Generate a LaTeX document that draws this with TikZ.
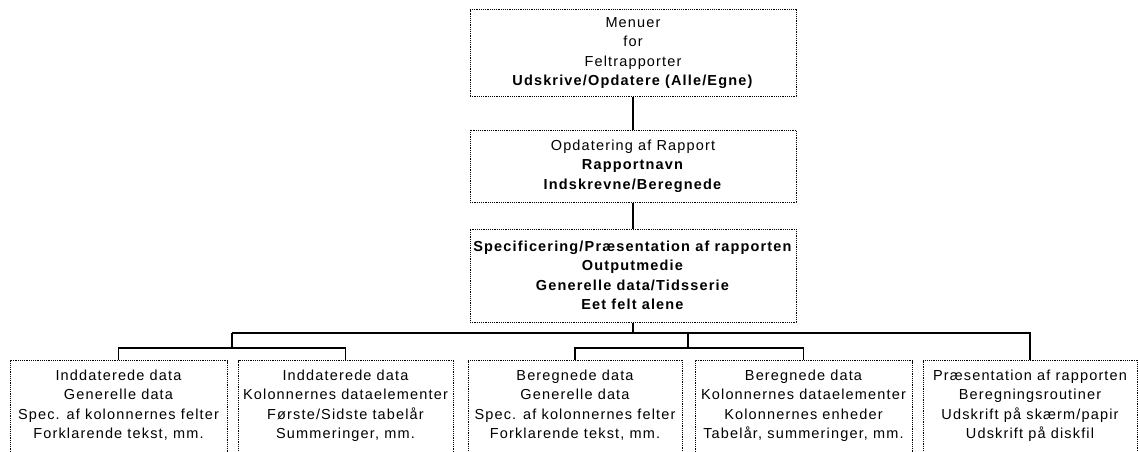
\documentclass[tikz,border=0pt]{standalone}
\usepackage{fontspec}
\setmainfont{Liberation Sans}[LetterSpace=8]
\begin{document}
\begin{tikzpicture}[x=1pt,y=-1pt,
  box/.style={draw=black, line width=1pt, dash pattern=on 1.2pt off 1pt,
    align=center, inner sep=0pt, font=\fontsize{14.5}{19.5}\selectfont},
  botbox/.style={box, anchor=north, inner ysep=9pt, text depth=40pt},
  conn/.style={draw=black, line width=1.6pt}]
\useasboundingbox (0,0) rectangle (1138,452);
% top chain
\node[box, minimum width=326pt, minimum height=86pt] (menu) at (633,53)
  {Menuer\\for\\Feltrapporter\\\textbf{Udskrive/Opdatere (Alle/Egne)}};
\node[box, minimum width=326pt, minimum height=72pt] (opd) at (633,166)
  {Opdatering af Rapport\\\textbf{Rapportnavn}\\\textbf{Indskrevne/Beregnede}};
\node[box, minimum width=326pt, minimum height=93pt] (spec) at (633,275.5)
  {\textbf{Specificering/Præsentation af rapporten}\\\textbf{Outputmedie}\\
   \textbf{Generelle data/Tidsserie}\\\textbf{Eet felt alene}};
% bottom row
\node[botbox, minimum width=217pt] (A) at (118.5,360)
  {Inddaterede data\\Generelle data\\Spec. af kolonnernes felter\\Forklarende tekst, mm.};
\node[botbox, minimum width=215pt] (B) at (345.5,360)
  {Inddaterede data\\Kolonnernes dataelementer\\Første/Sidste tabelår\\Summeringer, mm.};
\node[botbox, minimum width=214pt] (C) at (575,360)
  {Beregnede data\\Generelle data\\Spec. af kolonnernes felter\\Forklarende tekst, mm.};
\node[botbox, minimum width=217pt] (D) at (803.5,360)
  {Beregnede data\\Kolonnernes dataelementer\\Kolonnernes enheder\\Tabelår, summeringer, mm.};
\node[botbox, minimum width=214pt] (E) at (1030,360)
  {Præsentation af rapporten\\Beregningsroutiner\\Udskrift på skærm/papir\\Udskrift på diskfil};
% connectors
\coordinate (hL) at (232,333);
\coordinate (hM) at (688,333);
\coordinate (sL) at (232,348);
\coordinate (sM) at (688,348);
\draw[conn] (menu.south) -- (opd.north);
\draw[conn] (opd.south) -- (spec.north);
\draw[conn] (spec.south) -- (spec.south |- hL);
\draw[conn] (hL) -- (E.north |- hL) -- (E.north);
\draw[conn] (hL) -- (sL);
\draw[conn] (A.north) |- (sL) -| (B.north);
\draw[conn] (hM) -- (sM);
\draw[conn] (C.north) |- (sM) -| (D.north);
\end{tikzpicture}
\end{document}
